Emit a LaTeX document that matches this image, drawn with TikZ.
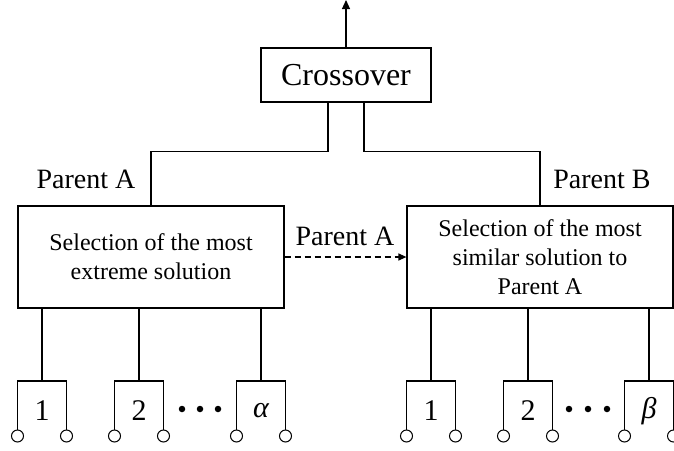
\documentclass[tikz,border=0pt]{standalone}
\usepackage{fontspec}
\setmainfont{Liberation Serif}
\usetikzlibrary{arrows.meta}

\begin{document}
\begin{tikzpicture}[x=1pt,y=-1pt,line width=1.2pt,
  box node/.style={rectangle,draw,fill=white,inner sep=0pt,align=center,font=\fontsize{24}{29}\selectfont},
  lbl node/.style={inner sep=0pt,font=\fontsize{28}{32}\selectfont},
  num node/.style={inner sep=0pt,font=\fontsize{30}{34}\selectfont},
  term node/.style={circle,draw,fill=white,inner sep=0pt,minimum size=12pt,line width=1pt},
  dot node/.style={circle,fill,inner sep=0pt,minimum size=6.5pt}]

  \useasboundingbox (0,0) rectangle (674,450);

  \node[box node,minimum width=170pt,minimum height=54pt,font=\fontsize{32}{36}\selectfont] (cross) at (346,75) {Crossover};
  \coordinate (out) at (346,0);
  \node[box node,minimum width=266pt,minimum height=102pt] (sel1) at (151,257) {Selection of the most\\extreme solution};
  \node[box node,minimum width=266pt,minimum height=102pt] (sel2) at (540,257) {Selection of the most\\similar solution to\\Parent A};

  \node[lbl node] (pa) at (86,179) {Parent A};
  \node[lbl node] (pb) at (602,179) {Parent B};
  \node[lbl node] (pm) at (345,236) {Parent A};

  % units below the left box
  \coordinate (a1) at (42,381);
  \coordinate (a2) at (139,381);
  \coordinate (aa) at (261,381);
  \node[num node] (a1n) at (42,411) {1};
  \node[num node] (a2n) at (139,411) {2};
  \node[num node] (aan) at (261,411) {\itshape α};
  \node[term node] (a1l) at (17.5,436) {};
  \node[term node] (a1r) at (66.5,436) {};
  \node[term node] (a2l) at (114.5,436) {};
  \node[term node] (a2r) at (163.5,436) {};
  \node[term node] (aal) at (236.5,436) {};
  \node[term node] (aar) at (285.5,436) {};
  \node[dot node] (ad1) at (182,409) {};
  \node[dot node] (ad2) at (200,409) {};
  \node[dot node] (ad3) at (218,409) {};

  % units below the right box
  \coordinate (b1) at (431,381);
  \coordinate (b2) at (528,381);
  \coordinate (bb) at (649,381);
  \node[num node] (b1n) at (431,411) {1};
  \node[num node] (b2n) at (528,411) {2};
  \node[num node] (bbn) at (649,411) {\itshape β};
  \node[term node] (b1l) at (406.5,436) {};
  \node[term node] (b1r) at (455.5,436) {};
  \node[term node] (b2l) at (503.5,436) {};
  \node[term node] (b2r) at (552.5,436) {};
  \node[term node] (bbl) at (624.5,436) {};
  \node[term node] (bbr) at (673.5,436) {};
  \node[dot node] (bd1) at (569,409) {};
  \node[dot node] (bd2) at (588,409) {};
  \node[dot node] (bd3) at (607,409) {};

  \draw[-{Triangle[length=9pt,width=8pt]}] (cross.north) -- (out);
  \draw ([xshift=-18pt]cross.south) -- ++(0,49) -| (sel1.north);
  \draw ([xshift=18pt]cross.south) -- ++(0,49) -| (sel2.north);
  \draw[dashed,dash pattern=on 6pt off 4pt,-{Triangle[length=8pt,width=7pt]}] (sel1) -- (sel2);

  \draw (sel1.south -| a1) -- (a1);
  \draw (sel1.south -| a2) -- (a2);
  \draw (sel1.south -| aa) -- (aa);
  \draw (sel2.south -| b1) -- (b1);
  \draw (sel2.south -| b2) -- (b2);
  \draw (sel2.south -| bb) -- (bb);

  \draw (a1l) |- (a1) -| (a1r);
  \draw (a2l) |- (a2) -| (a2r);
  \draw (aal) |- (aa) -| (aar);
  \draw (b1l) |- (b1) -| (b1r);
  \draw (b2l) |- (b2) -| (b2r);
  \draw (bbl) |- (bb) -| (bbr);

\end{tikzpicture}
\end{document}
